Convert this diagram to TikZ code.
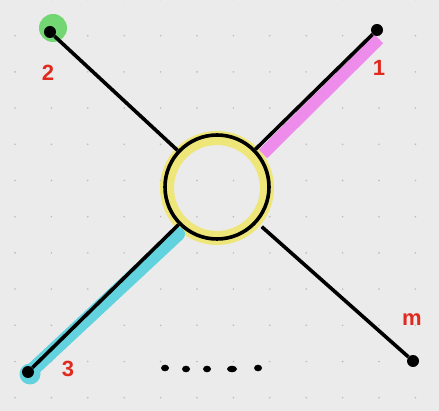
\documentclass[tikz,border=0pt]{standalone}
\usepackage{fontspec}
\setmainfont{Liberation Sans}
\definecolor{bgc}{HTML}{EBEBEB}
\definecolor{gridc}{HTML}{BCBCBC}
\definecolor{redc}{HTML}{E02A1E}
\definecolor{pinkc}{HTML}{EE8CEB}
\definecolor{cyanc}{HTML}{62D3DE}
\definecolor{greenc}{HTML}{72D672}
\definecolor{yellc}{HTML}{EEE678}
\tikzset{
  wire/.style={line width=3.6pt, black},
  enddot/.style={circle, fill=black, inner sep=0pt, minimum size=12pt},
  lab/.style={text=redc, font=\bfseries\fontsize{22}{22}\selectfont, inner sep=0pt},
  hub/.style={circle, draw=black, line width=3.6pt, minimum size=104pt, inner sep=0pt},
  gdot/.style={fill=gridc},
  ell/.style={fill=black}
}
\begin{document}
\begin{tikzpicture}[x=1pt,y=-1pt]
\useasboundingbox (0,0) rectangle (439,411);
\fill[bgc] (0,0) rectangle (439,411);
% grid
\foreach \i in {0,...,11}{
  \foreach \j in {0,...,11}{
    \fill[gdot] ({15+36.4*\i},{-0.5+36.2*\j}) circle (0.9pt);
  }
}
% coordinates
\coordinate (c) at (217,187);
% highlights
\fill[greenc] (53,28) circle (14pt);
\draw[yellc, line width=14pt] (217,188) circle (50pt);
\draw[pinkc, line width=12pt] (263,154) -- (379,39);
\draw[cyanc, line width=14pt, line cap=round] (29,373) -- (178,234);
\fill[cyanc] (30,374) circle (10.5pt);
% nodes
\node[hub] (hub) at (c) {};
\node[enddot] (e1) at (377,30) {};
\node[enddot] (e2) at (50,32) {};
\node[enddot] (e3) at (28,372) {};
\node[enddot] (em) at (413,361) {};
% wires
\draw[wire] (hub) -- (e1);
\draw[wire] (hub) -- (e2);
\draw[wire] (hub) -- (e3);
\draw[wire, shorten <=6pt] (hub) -- (em);
% labels
\node[lab] (l2) at (48,73) {2};
\node[lab] (l1) at (379,68) {1};
\node[lab] (l3) at (68,369) {3};
\node[lab] (lm) at (412,320) {m};
% ellipsis
\fill[ell] (165,368) ellipse (4pt and 3.3pt);
\fill[ell] (186,369) ellipse (4pt and 3.3pt);
\fill[ell] (207,369) ellipse (4pt and 3.3pt);
\fill[ell] (232,369) ellipse (5pt and 3.3pt);
\fill[ell] (258,368) ellipse (4pt and 3.3pt);
\end{tikzpicture}
\end{document}
